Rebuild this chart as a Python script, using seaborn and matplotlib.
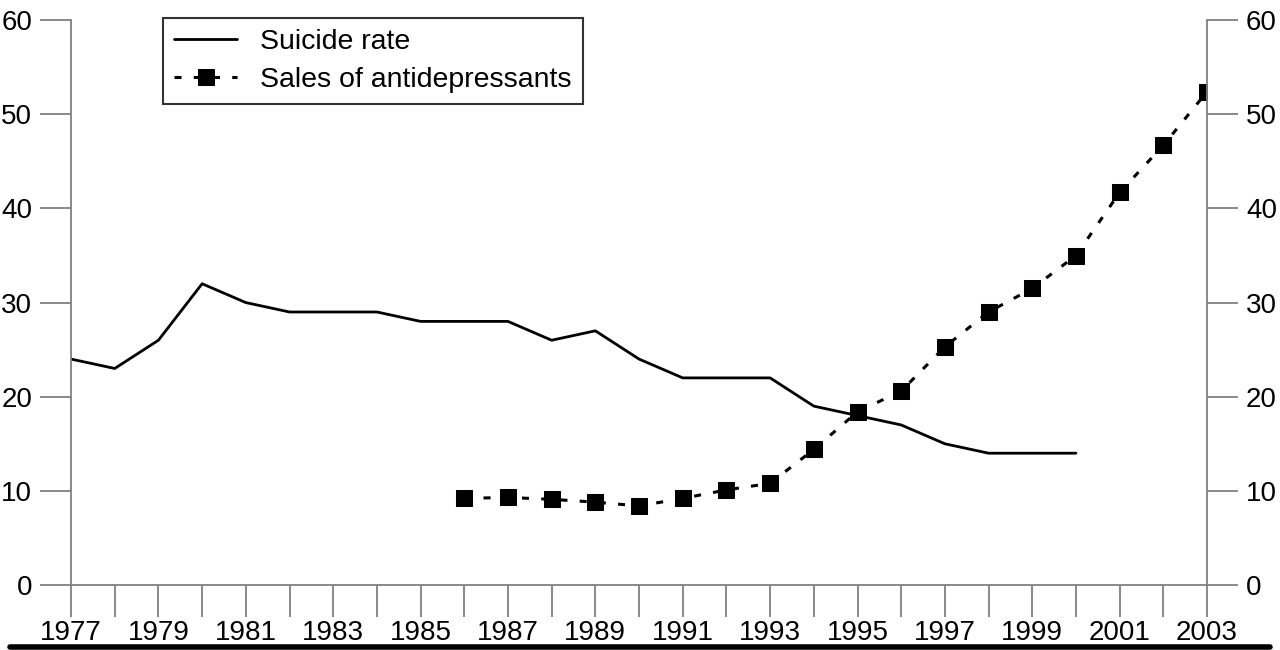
import matplotlib.pyplot as plt
import matplotlib.lines as mlines
import pandas as pd
import seaborn as sns

years_suicide = list(range(1977, 2001))
suicide_rate = [24, 23, 26, 32, 30, 29, 29, 29, 28, 28, 28, 26, 27, 24,
                22, 22, 22, 19, 18, 17, 15, 14, 14, 14]

years_sales = list(range(1986, 2004))
sales = [9.2, 9.3, 9.1, 8.8, 8.4, 9.2, 10.1, 10.8, 14.4, 18.4, 20.6,
         25.3, 29.0, 31.5, 35.0, 41.7, 46.7, 52.4]

year_ticks = list(range(1977, 2004))
year_labels = [str(y) if y % 2 == 1 else '' for y in year_ticks]
value_ticks = [0, 10, 20, 30, 40, 50, 60]

sns.set_theme(style='white')
plt.rcParams['font.family'] = ['Liberation Sans', 'DejaVu Sans']
plt.rcParams['text.color'] = 'black'

df_s = pd.DataFrame({'year': years_suicide, 'value': suicide_rate})
df_a = pd.DataFrame({'year': years_sales, 'value': sales})

fig = plt.figure(figsize=(12.8, 6.5), dpi=100)
ax = fig.add_axes([0.0555, 0.1, 0.8875, 0.869])

sns.lineplot(data=df_s, x='year', y='value', ax=ax, color='black', lw=2,
             label='Suicide rate')
sns.lineplot(data=df_a, x='year', y='value', ax=ax, color='black', lw=2.2,
             linestyle=(0, (2.3, 4.0)), marker='s', markersize=11,
             markeredgecolor='black', label='Sales of antidepressants')

ax.set_xlim(1977, 2003)
ax.set_ylim(0, 60)
ax.set_xticks(year_ticks)
ax.set_xticklabels(year_labels)
ax.set_yticks(value_ticks)
ax.set_xlabel('')
ax.set_ylabel('')

for side in ['left', 'right', 'bottom']:
    ax.spines[side].set_color('#808080')
    ax.spines[side].set_linewidth(1.3)
ax.spines['top'].set_visible(False)

ax.tick_params(axis='y', direction='out', length=22, width=1.3, color='#808080',
               labelcolor='black', left=True, right=True, labelleft=True,
               labelright=True, labelsize=20, pad=6)
ax.tick_params(axis='x', direction='out', length=23, width=1.3, color='#808080',
               labelcolor='black', bottom=True, labelsize=20, pad=2)

leg = ax.legend(loc='upper left', bbox_to_anchor=(0.081, 1.004), fontsize=20.5,
                frameon=True, fancybox=False, edgecolor='black',
                handlelength=2.2, handletextpad=0.8, borderpad=0.4,
                labelspacing=0.4, borderaxespad=0)
leg.get_frame().set_linewidth(1.5)

fig.add_artist(mlines.Line2D([0.008, 0.992], [0.005, 0.005], color='black',
                             lw=4, transform=fig.transFigure))

fig.savefig('out.png', dpi=100, facecolor='white')
